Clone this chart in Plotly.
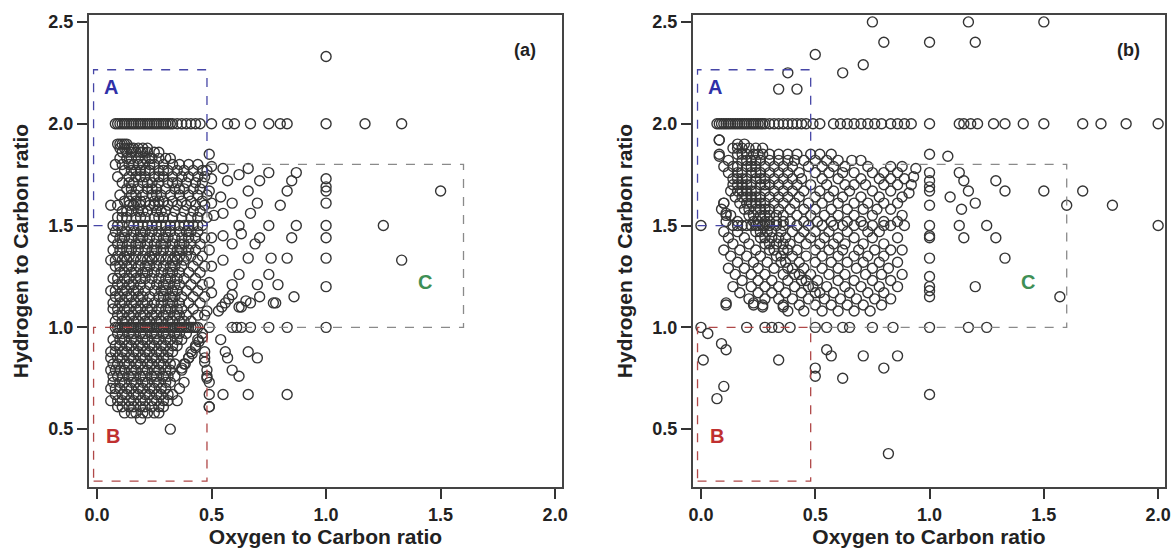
import plotly.graph_objects as go

# ---------------- Panel (a) data ----------------
dense_a_hc = [1.90, 1.88, 1.86, 1.83, 1.80, 1.77, 1.74, 1.71, 1.68, 1.65, 1.62, 1.60, 1.57, 1.54, 1.50,
              1.47, 1.44, 1.41, 1.38, 1.35, 1.33, 1.30, 1.27, 1.24, 1.21, 1.18, 1.15, 1.12, 1.09, 1.06,
              1.03, 1.00, 0.97, 0.94, 0.91, 0.88, 0.85, 0.82, 0.79, 0.76, 0.73, 0.70, 0.67, 0.64, 0.61,
              0.58, 0.55, 0.50]
dense_a_oc = [
    [0.09, 0.10, 0.11, 0.12, 0.13],
    [0.10, 0.12, 0.14, 0.15, 0.16, 0.18, 0.20, 0.22],
    [0.11, 0.13, 0.15, 0.17, 0.19, 0.20, 0.22, 0.25, 0.27],
    [0.10, 0.13, 0.15, 0.18, 0.21, 0.23, 0.24, 0.27, 0.30, 0.32],
    [0.08, 0.11, 0.14, 0.16, 0.18, 0.20, 0.23, 0.25, 0.29, 0.33, 0.36, 0.40, 0.44],
    [0.12, 0.15, 0.17, 0.19, 0.21, 0.23, 0.27, 0.29, 0.31, 0.35, 0.38, 0.42, 0.46, 0.48],
    [0.09, 0.14, 0.17, 0.19, 0.21, 0.25, 0.27, 0.29, 0.33, 0.37, 0.40, 0.44, 0.47],
    [0.11, 0.14, 0.16, 0.20, 0.22, 0.24, 0.27, 0.31, 0.33, 0.35, 0.39, 0.43, 0.46],
    [0.13, 0.15, 0.18, 0.22, 0.24, 0.26, 0.30, 0.34, 0.36, 0.38, 0.42, 0.45],
    [0.10, 0.15, 0.17, 0.20, 0.24, 0.26, 0.28, 0.32, 0.36, 0.40, 0.44, 0.48],
    [0.12, 0.14, 0.17, 0.19, 0.21, 0.25, 0.27, 0.29, 0.33, 0.37, 0.41, 0.46],
    [0.06, 0.09, 0.14, 0.16, 0.19, 0.23, 0.25, 0.27, 0.31, 0.35, 0.39, 0.43, 0.47],
    [0.11, 0.13, 0.15, 0.18, 0.20, 0.22, 0.26, 0.28, 0.30, 0.34, 0.38, 0.42, 0.45],
    [0.09, 0.11, 0.13, 0.17, 0.19, 0.21, 0.25, 0.27, 0.29, 0.33, 0.37, 0.41, 0.44, 0.48],
    [0.07, 0.09, 0.11, 0.14, 0.16, 0.18, 0.20, 0.22, 0.24, 0.26, 0.28, 0.30, 0.32, 0.34, 0.36,
     0.38, 0.40, 0.42, 0.44, 0.46],
    [0.08, 0.11, 0.13, 0.16, 0.19, 0.21, 0.24, 0.27, 0.30, 0.32, 0.36, 0.39, 0.41, 0.44],
    [0.07, 0.10, 0.12, 0.15, 0.18, 0.20, 0.23, 0.26, 0.29, 0.31, 0.34, 0.37, 0.40, 0.43, 0.47],
    [0.09, 0.11, 0.14, 0.17, 0.19, 0.22, 0.25, 0.28, 0.30, 0.33, 0.36, 0.38, 0.41, 0.45],
    [0.07, 0.10, 0.13, 0.15, 0.18, 0.21, 0.24, 0.26, 0.29, 0.32, 0.35, 0.37, 0.40, 0.43],
    [0.09, 0.12, 0.14, 0.17, 0.20, 0.23, 0.25, 0.28, 0.31, 0.34, 0.36, 0.39, 0.41, 0.46],
    [0.06, 0.08, 0.11, 0.13, 0.16, 0.19, 0.22, 0.24, 0.27, 0.30, 0.33, 0.35, 0.38, 0.44],
    [0.08, 0.10, 0.13, 0.15, 0.18, 0.21, 0.23, 0.26, 0.29, 0.32, 0.34, 0.37, 0.42, 0.47],
    [0.10, 0.12, 0.15, 0.17, 0.20, 0.22, 0.25, 0.28, 0.31, 0.33, 0.36, 0.40, 0.45],
    [0.07, 0.09, 0.12, 0.14, 0.17, 0.19, 0.21, 0.24, 0.27, 0.30, 0.32, 0.35, 0.38, 0.43],
    [0.09, 0.11, 0.14, 0.16, 0.19, 0.23, 0.26, 0.29, 0.31, 0.34, 0.36, 0.41, 0.46],
    [0.06, 0.08, 0.11, 0.13, 0.16, 0.18, 0.21, 0.25, 0.28, 0.30, 0.33, 0.35, 0.39, 0.44],
    [0.08, 0.10, 0.13, 0.15, 0.18, 0.20, 0.23, 0.27, 0.29, 0.32, 0.34, 0.37, 0.42, 0.47],
    [0.07, 0.10, 0.12, 0.15, 0.17, 0.20, 0.22, 0.25, 0.28, 0.31, 0.33, 0.36, 0.40, 0.45],
    [0.07, 0.09, 0.12, 0.14, 0.17, 0.19, 0.22, 0.24, 0.27, 0.30, 0.32, 0.35, 0.37, 0.42],
    [0.09, 0.11, 0.14, 0.16, 0.19, 0.21, 0.24, 0.26, 0.29, 0.31, 0.34, 0.36, 0.39, 0.44, 0.47],
    [0.08, 0.11, 0.13, 0.16, 0.18, 0.21, 0.23, 0.26, 0.28, 0.31, 0.33, 0.36, 0.38, 0.41],
    [0.08, 0.09, 0.10, 0.11, 0.12, 0.13, 0.14, 0.15, 0.16, 0.17, 0.18, 0.19, 0.20, 0.21, 0.22,
     0.23, 0.24, 0.25, 0.26, 0.27, 0.28, 0.29, 0.30, 0.31, 0.32, 0.33, 0.34, 0.35, 0.36, 0.37,
     0.38, 0.39, 0.40, 0.41, 0.42, 0.43, 0.44, 0.49, 0.59, 0.61, 0.63, 0.67, 0.75, 0.83, 1.00],
    [0.09, 0.11, 0.14, 0.16, 0.19, 0.21, 0.24, 0.26, 0.29, 0.31, 0.34, 0.36, 0.39, 0.46],
    [0.07, 0.10, 0.12, 0.15, 0.17, 0.20, 0.22, 0.25, 0.27, 0.30, 0.32, 0.35, 0.37, 0.44, 0.54],
    [0.08, 0.10, 0.13, 0.15, 0.18, 0.20, 0.23, 0.25, 0.28, 0.30, 0.33, 0.35, 0.43],
    [0.06, 0.08, 0.11, 0.13, 0.16, 0.18, 0.21, 0.23, 0.26, 0.28, 0.31, 0.33, 0.41, 0.47, 0.56, 0.66],
    [0.06, 0.09, 0.11, 0.14, 0.16, 0.19, 0.21, 0.24, 0.26, 0.29, 0.31, 0.40, 0.47, 0.57, 0.70],
    [0.07, 0.09, 0.12, 0.14, 0.17, 0.19, 0.22, 0.24, 0.27, 0.29, 0.32, 0.34, 0.38],
    [0.06, 0.08, 0.10, 0.12, 0.15, 0.17, 0.20, 0.22, 0.25, 0.27, 0.30, 0.32, 0.37, 0.48, 0.59],
    [0.07, 0.09, 0.11, 0.14, 0.16, 0.19, 0.21, 0.24, 0.26, 0.29, 0.31, 0.34, 0.48, 0.62],
    [0.07, 0.10, 0.12, 0.15, 0.17, 0.20, 0.22, 0.25, 0.27, 0.30, 0.32, 0.38, 0.49],
    [0.06, 0.08, 0.10, 0.13, 0.15, 0.18, 0.20, 0.23, 0.25, 0.28, 0.30, 0.36],
    [0.08, 0.11, 0.13, 0.16, 0.18, 0.21, 0.23, 0.26, 0.28, 0.31, 0.33, 0.49, 0.55, 0.66, 0.83],
    [0.06, 0.09, 0.11, 0.14, 0.16, 0.19, 0.21, 0.24, 0.26, 0.29, 0.31, 0.35],
    [0.09, 0.11, 0.14, 0.16, 0.19, 0.21, 0.24, 0.27, 0.29, 0.49],
    [0.12, 0.15, 0.17, 0.20, 0.22, 0.25, 0.27],
    [0.19],
    [0.32],
]

# row H/C = 2.0 in panel (a)
row2_a_oc = [0.08, 0.09, 0.10, 0.11, 0.12, 0.13, 0.14, 0.15, 0.16, 0.17, 0.18, 0.19, 0.20, 0.21,
             0.22, 0.23, 0.24, 0.25, 0.26, 0.27, 0.28, 0.29, 0.30, 0.31, 0.32, 0.33, 0.35, 0.37,
             0.39, 0.41, 0.43, 0.45, 0.50, 0.57, 0.60, 0.67, 0.75, 0.80, 0.83, 1.00, 1.17, 1.33]

# scattered points in panel (a)
sparse_a_oc = [1.00, 1.50, 1.25, 1.33,
               1.00, 1.00, 1.00, 1.00, 1.00, 1.00, 1.00, 1.00,
               0.49, 0.50, 0.50, 0.49, 0.50, 0.51, 0.50, 0.49, 0.50, 0.49, 0.50, 0.48,
               0.55, 0.66, 0.75, 0.87, 0.62, 0.57, 0.71, 0.85, 0.83, 0.66, 0.54, 0.59, 0.70, 0.80,
               0.67, 0.55, 0.62, 0.75, 0.87, 0.63, 0.55, 0.71, 0.59, 0.69, 0.85, 0.66, 0.76, 0.83,
               0.55, 0.62, 0.75, 0.70, 0.79, 0.59, 0.71, 0.65, 0.77, 0.86, 0.62, 0.53, 0.545, 0.56,
               0.575, 0.59, 0.63, 0.67, 0.78,
               0.46, 0.445, 0.43, 0.415, 0.40, 0.385, 0.37, 0.47, 0.48, 0.49]
sparse_a_hc = [2.33, 1.67, 1.50, 1.33,
               1.73, 1.69, 1.67, 1.61, 1.50, 1.44, 1.34, 1.20,
               1.85, 1.79, 1.73, 1.67, 1.61, 1.55, 1.44, 1.38, 1.30, 1.22, 1.17, 1.08,
               1.78, 1.78, 1.76, 1.76, 1.75, 1.72, 1.72, 1.72, 1.67, 1.67, 1.64, 1.61, 1.61, 1.60,
               1.56, 1.56, 1.50, 1.50, 1.50, 1.46, 1.45, 1.44, 1.41, 1.41, 1.44, 1.34, 1.34, 1.34,
               1.33, 1.26, 1.26, 1.21, 1.21, 1.21, 1.15, 1.13, 1.12, 1.15, 1.10, 1.08, 1.10, 1.12,
               1.14, 1.16, 1.10, 1.12, 1.12,
               0.95, 0.93, 0.90, 0.87, 0.85, 0.82, 0.80, 0.83, 0.75, 0.61]

# ---------------- Panel (b) data ----------------
dense_b_hc = [1.92, 1.90, 1.88, 1.85, 1.82, 1.79, 1.76, 1.73, 1.70, 1.67, 1.64, 1.61, 1.58, 1.55,
              1.52, 1.50, 1.47, 1.44, 1.41, 1.38, 1.35, 1.32, 1.29, 1.26, 1.23, 1.20, 1.17, 1.14,
              1.11, 1.08, 1.00]
dense_b_oc = [
    [0.08],
    [0.16, 0.19],
    [0.14, 0.16, 0.18, 0.21, 0.24, 0.27],
    [0.08, 0.16, 0.18, 0.20, 0.23, 0.25, 0.27, 0.30, 0.34, 0.38, 0.42, 0.48, 0.52, 0.57],
    [0.12, 0.18, 0.20, 0.22, 0.24, 0.26, 0.30, 0.34, 0.38, 0.41, 0.45, 0.50, 0.55, 0.60, 0.66, 0.70],
    [0.10, 0.14, 0.16, 0.20, 0.22, 0.24, 0.28, 0.32, 0.36, 0.40, 0.47, 0.53, 0.58, 0.63, 0.73, 0.83, 0.88],
    [0.12, 0.16, 0.18, 0.22, 0.24, 0.26, 0.30, 0.34, 0.38, 0.43, 0.50, 0.56, 0.62, 0.67, 0.75, 0.80, 0.86],
    [0.14, 0.16, 0.18, 0.20, 0.24, 0.26, 0.28, 0.32, 0.36, 0.40, 0.44, 0.53, 0.60, 0.70, 0.78, 0.83, 0.89],
    [0.14, 0.16, 0.18, 0.20, 0.22, 0.26, 0.28, 0.30, 0.34, 0.38, 0.42, 0.48, 0.55, 0.63, 0.67, 0.72, 0.80, 0.86],
    [0.13, 0.16, 0.18, 0.20, 0.22, 0.24, 0.28, 0.32, 0.36, 0.40, 0.45, 0.52, 0.58, 0.65, 0.75, 0.83],
    [0.15, 0.18, 0.20, 0.22, 0.24, 0.26, 0.30, 0.34, 0.38, 0.43, 0.50, 0.56, 0.62, 0.70, 0.78, 0.88],
    [0.10, 0.17, 0.20, 0.22, 0.24, 0.26, 0.28, 0.32, 0.36, 0.41, 0.47, 0.53, 0.60, 0.67, 0.73, 0.80, 0.86],
    [0.09, 0.19, 0.21, 0.24, 0.26, 0.28, 0.30, 0.34, 0.39, 0.45, 0.50, 0.57, 0.64, 0.71, 0.77, 0.83],
    [0.11, 0.13, 0.21, 0.23, 0.26, 0.28, 0.30, 0.33, 0.36, 0.42, 0.48, 0.54, 0.60, 0.67, 0.75, 0.88],
    [0.11, 0.16, 0.23, 0.25, 0.28, 0.30, 0.33, 0.36, 0.39, 0.45, 0.51, 0.57, 0.64, 0.70, 0.80, 0.86],
    [0.00, 0.14, 0.16, 0.18, 0.20, 0.22, 0.24, 0.25, 0.27, 0.28, 0.30, 0.33, 0.36, 0.42, 0.47,
     0.53, 0.58, 0.62, 0.67, 0.71, 0.75, 0.80, 0.83, 0.89],
    [0.10, 0.16, 0.24, 0.26, 0.29, 0.31, 0.35, 0.40, 0.45, 0.50, 0.56, 0.64, 0.73, 0.78],
    [0.12, 0.19, 0.26, 0.28, 0.31, 0.34, 0.37, 0.43, 0.48, 0.54, 0.60, 0.67, 0.75, 0.86],
    [0.14, 0.21, 0.28, 0.30, 0.33, 0.36, 0.39, 0.46, 0.52, 0.58, 0.63, 0.71, 0.80],
    [0.10, 0.17, 0.24, 0.30, 0.32, 0.36, 0.38, 0.42, 0.50, 0.56, 0.62, 0.69, 0.76, 0.83, 0.88],
    [0.13, 0.20, 0.26, 0.33, 0.35, 0.40, 0.46, 0.53, 0.60, 0.67, 0.73, 0.80],
    [0.16, 0.23, 0.29, 0.35, 0.37, 0.43, 0.50, 0.57, 0.64, 0.71, 0.78, 0.86],
    [0.12, 0.19, 0.25, 0.32, 0.38, 0.40, 0.45, 0.53, 0.60, 0.68, 0.75, 0.82],
    [0.15, 0.22, 0.28, 0.36, 0.41, 0.43, 0.48, 0.56, 0.63, 0.72, 0.79, 0.88],
    [0.18, 0.25, 0.31, 0.38, 0.44, 0.46, 0.51, 0.60, 0.67, 0.75, 0.83],
    [0.14, 0.22, 0.28, 0.34, 0.41, 0.47, 0.49, 0.55, 0.63, 0.70, 0.78, 0.86],
    [0.17, 0.25, 0.31, 0.37, 0.44, 0.50, 0.52, 0.58, 0.65, 0.73, 0.80],
    [0.21, 0.28, 0.34, 0.40, 0.47, 0.54, 0.61, 0.68, 0.76, 0.83],
    [0.11, 0.23, 0.27, 0.36, 0.43, 0.50, 0.57, 0.64, 0.71, 0.79],
    [0.38, 0.45, 0.53, 0.60, 0.67, 0.74],
    [0.00, 0.20, 0.28, 0.31, 0.34, 0.39, 0.50, 0.55, 0.62, 0.65, 0.75, 0.84, 1.00, 1.17, 1.25],
]

row2_b_oc = [0.07, 0.08, 0.09, 0.10, 0.11, 0.12, 0.13, 0.14, 0.15, 0.16, 0.17, 0.18, 0.19, 0.20,
             0.21, 0.22, 0.23, 0.24, 0.25, 0.26, 0.27, 0.28, 0.30, 0.32, 0.34, 0.36, 0.38, 0.40,
             0.42, 0.44, 0.46, 0.49, 0.52, 0.58, 0.61, 0.64, 0.67, 0.70, 0.73, 0.76, 0.79, 0.83,
             0.86, 0.89, 0.92, 1.00, 1.13, 1.15, 1.18, 1.21, 1.28, 1.33, 1.41, 1.50, 1.67, 1.75,
             1.86, 2.00]

sparse_b_oc = [0.50, 0.62, 0.71, 0.75, 0.38, 0.34, 0.42, 0.80, 1.00, 1.17, 1.20, 1.50,
               2.00, 1.80, 1.67, 1.60, 1.50, 1.33, 1.29, 1.08, 1.00,
               1.00, 1.00, 1.00, 1.00, 1.00, 1.00, 1.00, 1.00, 1.00, 1.00, 1.00, 1.00, 1.00, 1.00,
               1.13, 1.15, 1.17, 1.09, 1.20, 1.14, 1.13, 1.25, 1.15, 1.29, 1.33,
               1.20, 1.57, 0.86, 0.80, 0.82,
               0.03, 0.01, 0.09, 0.11, 0.10, 0.07, 0.34, 0.11, 0.23, 0.27, 0.36,
               0.50, 0.50, 0.62, 0.55, 0.57, 0.71,
               0.08, 0.08, 0.10, 0.11, 0.94, 0.93, 0.92, 0.91]
sparse_b_hc = [2.34, 2.25, 2.29, 2.50, 2.25, 2.17, 2.17, 2.40, 2.40, 2.50, 2.40, 2.50,
               1.50, 1.60, 1.67, 1.60, 1.67, 1.67, 1.72, 1.84, 1.85,
               1.76, 1.72, 1.69, 1.67, 1.60, 1.50, 1.45, 1.44, 1.34, 1.25, 1.20, 1.18, 1.15, 0.67,
               1.76, 1.72, 1.67, 1.64, 1.61, 1.58, 1.50, 1.50, 1.44, 1.44, 1.34,
               1.20, 1.15, 0.86, 0.80, 0.38,
               0.97, 0.84, 0.92, 0.89, 0.71, 0.65, 0.84, 1.12, 1.12, 1.10, 1.10,
               0.80, 0.76, 0.75, 0.89, 0.86, 0.86,
               1.92, 1.84, 1.61, 1.56, 1.78, 1.74, 1.70, 1.66]

# ---------------- helpers ----------------
def flatten(hc_rows, oc_rows):
    xs, ys = [], []
    for h, row in zip(hc_rows, oc_rows):
        for o in row:
            xs.append(o)
            ys.append(h)
    return xs, ys

xa, ya = flatten(dense_a_hc, dense_a_oc)
xa += row2_a_oc + sparse_a_oc
ya += [2.0] * len(row2_a_oc) + sparse_a_hc

xb, yb = flatten(dense_b_hc, dense_b_oc)
xb += row2_b_oc + sparse_b_oc
yb += [2.0] * len(row2_b_oc) + sparse_b_hc

FONT = "Liberation Sans, Arial, sans-serif"
marker = dict(symbol="circle", size=10, color="rgba(0,0,0,0)",
              line=dict(color="#353535", width=1.4))

fig = go.Figure()
fig.add_trace(go.Scatter(x=xa, y=ya, mode="markers", marker=marker, xaxis="x", yaxis="y",
                         showlegend=False, hoverinfo="skip"))
fig.add_trace(go.Scatter(x=xb, y=yb, mode="markers", marker=marker, xaxis="x2", yaxis="y2",
                         showlegend=False, hoverinfo="skip"))

# region boxes
boxes = [  # (x0, x1, y0, y1, colour)
    (-0.015, 0.48, 1.50, 2.265, "#4646a6"),
    (-0.015, 0.48, 0.245, 1.00, "#b04848"),
    (0.48, 1.60, 1.00, 1.80, "#8a8a8a"),
]
for xr, yr in [("x", "y"), ("x2", "y2")]:
    for x0, x1, y0, y1, col in boxes:
        fig.add_shape(type="rect", xref=xr, yref=yr, x0=x0, x1=x1, y0=y0, y1=y1,
                      line=dict(color=col, width=1.3, dash="dash"), layer="above")

labels = [("A", 0.06, 2.18, "#3030a8"), ("B", 0.07, 0.465, "#c03030"), ("C", 1.43, 1.225, "#3f8f55")]
for xr, yr, tag in [("x", "y", "(a)"), ("x2", "y2", "(b)")]:
    for t, lx, ly, col in labels:
        fig.add_annotation(x=lx, y=ly, xref=xr, yref=yr, text="<b>" + t + "</b>", showarrow=False,
                           font=dict(family=FONT, size=20, color=col))
    fig.add_annotation(x=1.87, y=2.36, xref=xr, yref=yr, text="<b>" + tag + "</b>", showarrow=False,
                       font=dict(family=FONT, size=18, color="#222"))

tickfont = dict(family=FONT, size=18, color="#222", weight="bold")
axis_common = dict(range=[-0.035, 2.03], tickvals=[0, 0.5, 1.0, 1.5, 2.0], tickformat=".1f",
                   ticks="outside", ticklen=10, tickwidth=1.5, tickcolor="#333",
                   showline=True, linecolor="#444", linewidth=2, mirror=True,
                   showgrid=False, zeroline=False, tickfont=tickfont, automargin=False,
                   title=dict(text="<b>Oxygen to Carbon ratio</b>", standoff=2,
                              font=dict(family=FONT, size=21, color="#222")))
yaxis_common = dict(range=[0.216, 2.534], tickvals=[0.5, 1.0, 1.5, 2.0, 2.5], tickformat=".1f",
                    ticks="outside", ticklen=10, tickwidth=1.5, tickcolor="#333",
                    showline=True, linecolor="#444", linewidth=2, mirror=True,
                    showgrid=False, zeroline=False, tickfont=tickfont, automargin=False,
                    title=dict(text="<b>Hydrogen to Carbon ratio</b>", standoff=14,
                               font=dict(family=FONT, size=21, color="#222")))

fig.update_layout(
    width=1174, height=552,
    margin=dict(l=89, r=9, t=15, b=65),
    paper_bgcolor="white", plot_bgcolor="white",
    xaxis=dict(domain=[0, 0.4396], anchor="y", **axis_common),
    yaxis=dict(domain=[0, 1], anchor="x", **yaxis_common),
    xaxis2=dict(domain=[0.5613, 1], anchor="y2", **axis_common),
    yaxis2=dict(domain=[0, 1], anchor="x2", **yaxis_common),
)

fig.write_html("out.html")
